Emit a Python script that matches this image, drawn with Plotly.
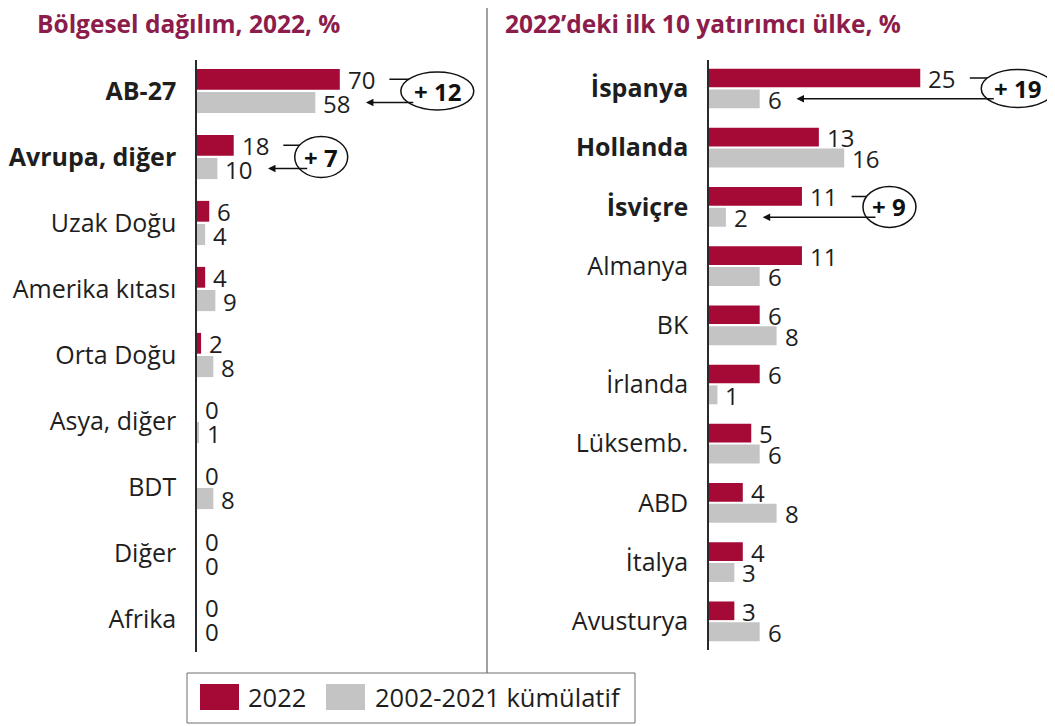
import plotly.graph_objects as go

# ---------------- data ----------------
left_title = "Bölgesel dağılım, 2022, %"
left_categories = ["AB-27", "Avrupa, diğer", "Uzak Doğu", "Amerika kıtası", "Orta Doğu",
                   "Asya, diğer", "BDT", "Diğer", "Afrika"]
left_2022 = [70, 18, 6, 4, 2, 0, 0, 0, 0]
left_cum = [58, 10, 4, 9, 8, 1, 8, 0, 0]
left_bold = ["AB-27", "Avrupa, diğer"]
left_highlight = ["AB-27", "Avrupa, diğer"]
left_delta = ["+ 12", "+ 7"]

right_title = "2022’deki ilk 10 yatırımcı ülke, %"
right_categories = ["İspanya", "Hollanda", "İsviçre", "Almanya", "BK", "İrlanda",
                    "Lüksemb.", "ABD", "İtalya", "Avusturya"]
right_2022 = [25, 13, 11, 11, 6, 6, 5, 4, 4, 3]
right_cum = [6, 16, 2, 6, 8, 1, 6, 8, 3, 6]
right_bold = ["İspanya", "Hollanda", "İsviçre"]
right_highlight = ["İspanya", "İsviçre"]
right_delta = ["+ 19", "+ 9"]

series_names = ["2022", "2002-2021 kümülatif"]

# ---------------- style ----------------
PAGE_OFF = 8                      # default body margin of the html page
W, H = 1055 - PAGE_OFF, 726 - PAGE_OFF
FONT = "Open Sans"
RED = "#A50A36"
GRAY = "#C4C4C4"
TITLE_C = "#8C1D4B"
TXT = "#1E1E1E"
FS = 24
TICK_FS = 25


def px_x(px):
    return (px - PAGE_OFF) / W


def px_y(py):
    return 1 - (py - PAGE_OFF) / H


panels = [
    dict(cats=left_categories, a=left_2022, b=left_cum, bold=left_bold, hl=left_highlight,
         delta=left_delta, title=left_title, title_x=35, xa="x", ya="y",
         x0=197, x1=480, ppx=2.04, y0=60, y1=652, c0=91, step=66),
    dict(cats=right_categories, a=right_2022, b=right_cum, bold=right_bold, hl=right_highlight,
         delta=right_delta, title=right_title, title_x=503, xa="x2", ya="y2",
         x0=709, x1=1055, ppx=8.45, y0=60, y1=650, c0=88.5, step=59.2),
]

RED_OFF, RED_W = -0.335, 0.315
GRAY_OFF, GRAY_W = 0.015, 0.32
DIGIT_W = 13.8

fig = go.Figure()
annotations = []
shapes = []
layout_axes = {}

for k, p in enumerate(panels):
    suffix = "" if k == 0 else "2"
    cats = p["cats"]
    n = len(cats)
    xrange_ = [0, (p["x1"] - p["x0"]) / p["ppx"]]
    yrange_ = [(p["y1"] - p["c0"]) / p["step"], (p["y0"] - p["c0"]) / p["step"]]
    layout_axes["xaxis" + suffix] = dict(
        domain=[px_x(p["x0"]), min(1, px_x(p["x1"]))], range=xrange_, visible=False,
        anchor=p["ya"], fixedrange=True)
    layout_axes["yaxis" + suffix] = dict(
        domain=[px_y(p["y1"]), px_y(p["y0"])], range=yrange_, type="category",
        categoryorder="array", categoryarray=cats, anchor=p["xa"],
        showline=True, linecolor="#2a2a2a", linewidth=1.5, showgrid=False, zeroline=False,
        ticks="", tickmode="array", tickvals=cats,
        ticktext=[f"<b>{c}</b>" if c in p["bold"] else c for c in cats],
        tickfont=dict(family=FONT, size=TICK_FS, color=TXT), ticklabelstandoff=14,
        fixedrange=True)

    fig.add_trace(go.Bar(y=cats, x=p["a"], orientation="h", marker=dict(color=RED, line_width=0),
                         width=RED_W, offset=RED_OFF, xaxis=p["xa"], yaxis=p["ya"],
                         showlegend=False, hoverinfo="skip", name=series_names[0]))
    fig.add_trace(go.Bar(y=cats, x=p["b"], orientation="h", marker=dict(color=GRAY, line_width=0),
                         width=GRAY_W, offset=GRAY_OFF, xaxis=p["xa"], yaxis=p["ya"],
                         showlegend=False, hoverinfo="skip", name=series_names[1]))

    # value labels
    for i in range(n):
        for val, off in ((p["a"][i], RED_OFF + RED_W / 2), (p["b"][i], GRAY_OFF + GRAY_W / 2)):
            annotations.append(dict(x=val, y=i + off, xref=p["xa"], yref=p["ya"], text=str(val),
                                    showarrow=False, xanchor="left", yanchor="middle", xshift=7,
                                    borderpad=0, height=20, valign="middle",
                                    font=dict(family=FONT, size=FS, color=TXT)))

    # title
    annotations.append(dict(x=px_x(p["title_x"]), y=px_y(24), xref="paper", yref="paper",
                            text=f"<b>{p['title']}</b>", showarrow=False, xanchor="left",
                            yanchor="middle", font=dict(family=FONT, size=24.5, color=TITLE_C)))

    # change callouts
    for cat, dtxt in zip(p["hl"], p["delta"]):
        i = cats.index(cat)
        r, g = p["a"][i], p["b"][i]
        dy_r = -(RED_OFF + RED_W / 2) * p["step"]      # pixels up
        dy_g = -(GRAY_OFF + GRAY_W / 2) * p["step"]    # pixels up (negative -> down)
        start = 22 + DIGIT_W * len(str(r))
        corner = 75
        ell_w = 73 if len(dtxt) > 3 else 53
        ell_h = 38 if len(dtxt) > 3 else 41
        shapes.append(dict(type="path", xref=p["xa"], yref=p["ya"], xsizemode="pixel",
                           ysizemode="pixel", xanchor=r, yanchor=i,
                           path=f"M {start},{dy_r:.1f} H {corner} V {dy_g:.1f}",
                           line=dict(color="#111", width=1.5), layer="above"))
        tip_shift = 23 + DIGIT_W * len(str(g))
        ax = (r - g) * p["ppx"] + corner - tip_shift
        annotations.append(dict(x=g, y=i + GRAY_OFF + GRAY_W / 2, xref=p["xa"], yref=p["ya"],
                                text="", showarrow=True, axref="pixel", ayref="pixel",
                                ax=ax, ay=0, xshift=tip_shift, arrowhead=2, arrowsize=1,
                                arrowwidth=1.5, arrowcolor="#111", standoff=0))
        shapes.append(dict(type="circle", xref=p["xa"], yref=p["ya"], xsizemode="pixel",
                           ysizemode="pixel", xanchor=r, yanchor=i,
                           x0=61, x1=61 + ell_w, y0=-ell_h / 2, y1=ell_h / 2,
                           fillcolor="white", line=dict(color="#111", width=1.5), layer="above"))
        annotations.append(dict(x=r, y=i, xref=p["xa"], yref=p["ya"], text=f"<b>{dtxt}</b>",
                                showarrow=False, xanchor="center", yanchor="middle",
                                xshift=61 + ell_w / 2,
                                font=dict(family=FONT, size=24, color="#111")))

# divider line
shapes.append(dict(type="line", xref="paper", yref="paper", x0=px_x(487), x1=px_x(487),
                   y0=1, y1=px_y(673), line=dict(color="#444", width=1)))

# legend (drawn)
shapes.append(dict(type="rect", xref="paper", yref="paper", x0=px_x(187), x1=px_x(635),
                   y0=px_y(723), y1=px_y(673), line=dict(color="#6e6e6e", width=1),
                   fillcolor="white"))
for (sx, tx), col, name in zip(((200, 246), (326, 373)), (RED, GRAY), series_names):
    shapes.append(dict(type="rect", xref="paper", yref="paper", x0=px_x(sx), x1=px_x(sx + 39),
                       y0=px_y(710), y1=px_y(684), fillcolor=col, line=dict(width=0)))
    annotations.append(dict(x=px_x(tx), y=px_y(697), xref="paper", yref="paper", text=name,
                            showarrow=False, xanchor="left", yanchor="middle",
                            font=dict(family=FONT, size=25.5, color=TXT)))

fig.update_layout(
    width=W, height=H, margin=dict(l=0, r=0, t=0, b=0),
    paper_bgcolor="white", plot_bgcolor="white",
    barmode="overlay", showlegend=False,
    font=dict(family=FONT, color=TXT),
    annotations=annotations, shapes=shapes,
    **layout_axes,
)

fig.write_html("out.html")
